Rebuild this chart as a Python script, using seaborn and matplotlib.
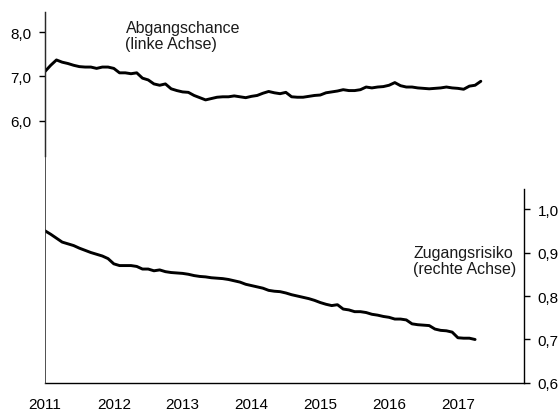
import matplotlib
matplotlib.use("Agg")
import matplotlib.pyplot as plt
import numpy as np
import pandas as pd
import seaborn as sns
from matplotlib.ticker import FuncFormatter

# monthly values, Jan 2011 onwards
abgangschance = [7.11, 7.25, 7.37, 7.32, 7.29, 7.25, 7.22, 7.21, 7.21, 7.18, 7.21, 7.21,
                 7.18, 7.08, 7.08, 7.06, 7.08, 6.96, 6.92, 6.83, 6.80, 6.83, 6.72, 6.68,
                 6.65, 6.64, 6.57, 6.52, 6.47, 6.50, 6.53, 6.54, 6.54, 6.56, 6.54, 6.52,
                 6.55, 6.57, 6.62, 6.66, 6.63, 6.61, 6.64, 6.54, 6.53, 6.53, 6.55, 6.57,
                 6.58, 6.63, 6.65, 6.67, 6.70, 6.68, 6.68, 6.70, 6.76, 6.74, 6.76, 6.77,
                 6.80, 6.86, 6.79, 6.76, 6.76, 6.74, 6.73, 6.72, 6.73, 6.74, 6.76, 6.74,
                 6.73, 6.71, 6.78, 6.80, 6.89]

zugangsrisiko = [0.950, 0.942, 0.933, 0.924, 0.920, 0.916, 0.910, 0.905, 0.900, 0.896, 0.892, 0.886,
                 0.874, 0.870, 0.870, 0.870, 0.868, 0.862, 0.862, 0.858, 0.860, 0.856, 0.854, 0.853,
                 0.852, 0.850, 0.847, 0.845, 0.844, 0.842, 0.841, 0.840, 0.838, 0.835, 0.832, 0.827,
                 0.824, 0.821, 0.818, 0.813, 0.811, 0.810, 0.807, 0.803, 0.800, 0.797, 0.794, 0.790,
                 0.785, 0.781, 0.778, 0.780, 0.770, 0.768, 0.764, 0.764, 0.762, 0.758, 0.756, 0.753,
                 0.751, 0.747, 0.747, 0.745, 0.736, 0.734, 0.733, 0.732, 0.724, 0.721, 0.720, 0.717,
                 0.704, 0.703, 0.703, 0.700]

years = [2011, 2012, 2013, 2014, 2015, 2016, 2017]
left_ticks = [6.0, 7.0, 8.0]
right_ticks = [0.6, 0.7, 0.8, 0.9, 1.0]

df_ab = pd.DataFrame({"t": 2011 + np.arange(len(abgangschance)) / 12, "v": abgangschance})
df_zu = pd.DataFrame({"t": 2011 + np.arange(len(zugangsrisiko)) / 12, "v": zugangsrisiko})

sns.set_style("white")
plt.rcParams["font.family"] = ["Liberation Sans", "DejaVu Sans"]
plt.rcParams["font.size"] = 11

comma = FuncFormatter(lambda v, p: f"{v:.1f}".replace(".", ","))

fig = plt.figure(figsize=(5.58, 4.14), dpi=100)
ax = fig.add_axes([0.0806, 0.0725, 0.8584, 0.896])
ax2 = ax.twinx()

sns.lineplot(data=df_ab, x="t", y="v", ax=ax, color="black", linewidth=2.1)
sns.lineplot(data=df_zu, x="t", y="v", ax=ax2, color="black", linewidth=2.1)

ax.set_xlim(2011, 2017.96)
ax.set_ylim(0.09, 8.45)
ax2.set_ylim(0.6, 1.453)

ax.set_xticks(years)
ax.set_xticklabels([str(y) for y in years])
ax.set_yticks(left_ticks)
ax.yaxis.set_major_formatter(comma)
ax2.set_yticks(right_ticks)
ax2.yaxis.set_major_formatter(comma)

for a in (ax, ax2):
    a.set_xlabel("")
    a.set_ylabel("")
    a.spines["top"].set_visible(False)
    a.tick_params(direction="out", length=4, width=1, colors="black", labelsize=11)

ax.spines["right"].set_visible(False)
ax.spines["left"].set_bounds(5.2, 8.45)
ax.spines["left"].set_linewidth(1.0)
ax.spines["left"].set_color("black")
ax.spines["bottom"].set_color("black")
ax.spines["bottom"].set_linewidth(1.0)

ax2.spines["left"].set_visible(True)
ax2.spines["left"].set_linewidth(0.6)
ax2.spines["left"].set_color("#333333")
ax2.spines["bottom"].set_visible(False)
ax2.spines["right"].set_bounds(0.6, 1.045)
ax2.spines["right"].set_color("black")
ax2.spines["right"].set_linewidth(1.0)
ax2.tick_params(axis="y", pad=6)
ax.tick_params(axis="y", pad=6)
ax.tick_params(axis="x", pad=6)

ax.text(2012.17, 8.27, "Abgangschance\n(linke Achse)", ha="left", va="top",
        fontsize=11.5, linespacing=1.1, color="#1a1a1a")
ax2.text(2016.35, 0.917, "Zugangsrisiko\n(rechte Achse)", ha="left", va="top",
         fontsize=11.5, linespacing=1.1, color="#1a1a1a")

fig.savefig("out.png", dpi=100)
